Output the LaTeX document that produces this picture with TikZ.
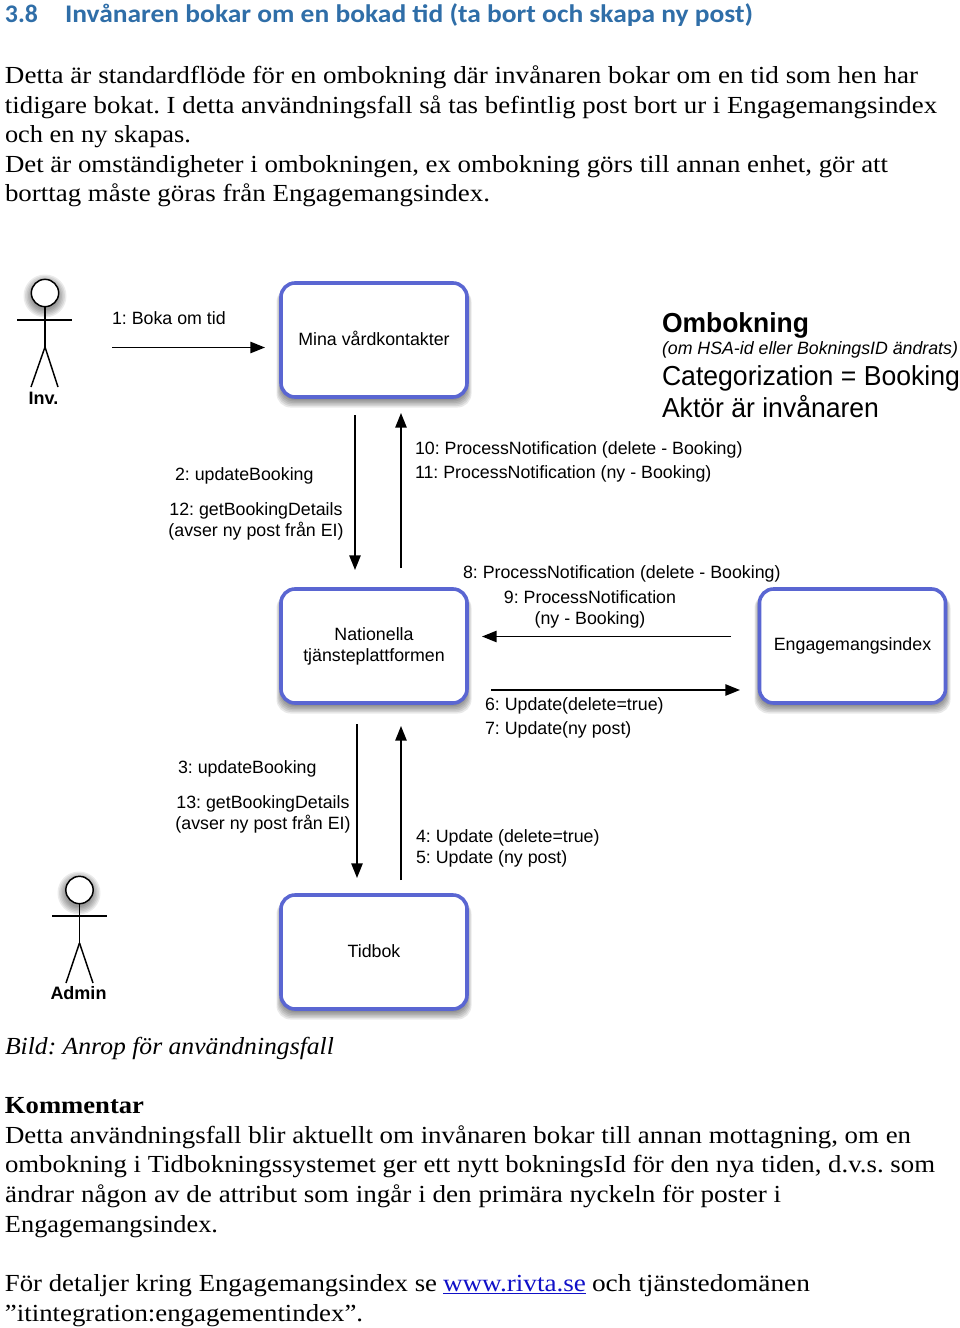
\documentclass[tikz,border=0pt]{standalone}
\usepackage{fontspec}
\usepackage{graphicx}
\usetikzlibrary{arrows.meta}
\setmainfont{Liberation Serif}
\newfontfamily\helv{Liberation Sans}
\newfontfamily\headf{Carlito}
\frenchspacing
\definecolor{boxblue}{HTML}{5A66D2}
\definecolor{headblue}{HTML}{2F6EA8}
\definecolor{linkblue}{HTML}{1010C8}
\newcommand{\fitw}[2]{\resizebox{#1\dimexpr 0.75pt\relax}{\height}{#2}}
\newcommand{\softsh}[4]{%
  \foreach \s in {0,1,...,5}{%
    \fill[black,opacity=.085,rounded corners=10.5pt]
      (#1-\s*0.9,#2+\s*0.4+3) rectangle (#3+\s*0.9,#4+\s*1.5+3);
  }}
\tikzset{
  x=0.75pt,y=-0.75pt,
  bodyline/.style={anchor=base west,inner sep=0pt,outer sep=0pt,font=\fontsize{18.4pt}{22pt}\selectfont},
  headline/.style={anchor=base west,inner sep=0pt,outer sep=0pt,text=headblue,font=\headf\bfseries\fontsize{19pt}{22pt}\selectfont},
  lbl/.style={anchor=base west,inner sep=0pt,outer sep=0pt,font=\helv\fontsize{13.35pt}{15.75pt}\selectfont},
  clbl/.style={anchor=center,align=center,inner sep=0pt,outer sep=0pt,font=\helv\fontsize{13.35pt}{15.75pt}\selectfont},
  biglbl/.style={anchor=base west,inner sep=0pt,outer sep=0pt,font=\helv\fontsize{20.6pt}{24pt}\selectfont},
  actorlbl/.style={anchor=center,inner sep=0pt,font=\helv\bfseries\fontsize{13.5pt}{15pt}\selectfont},
  sysbox/.style={draw=boxblue,fill=white,line width=2.7pt,rounded corners=10.5pt,
    minimum width=139.5pt,minimum height=85.5pt,align=center,inner sep=0pt,outer sep=0pt,
    font=\helv\fontsize{13.35pt}{15.75pt}\selectfont},
  msg/.style={line width=1.25pt,-{Triangle[length=11pt,width=8.5pt]}},
  stick/.style={line width=1.1pt,draw=black,line cap=butt},
}
\begin{document}
\begin{tikzpicture}
\useasboundingbox (0,0) rectangle (960,1328);
\fill[white] (0,0) rectangle (960,1328);

% heading and intro
\node[headline] (hnum) at (5,22) {\fitw{33}{3.8}};
\node[headline] (htitle) at (65,22) {\fitw{688}{Invånaren bokar om en bokad tid (ta bort och skapa ny post)}};
\node[bodyline] (p1) at (5,83) {\fitw{913}{Detta är standardflöde för en ombokning där invånaren bokar om en tid som hen har}};
\node[bodyline] (p2) at (5,113) {\fitw{932}{tidigare bokat. I detta användningsfall så tas befintlig post bort ur i Engagemangsindex}};
\node[bodyline] (p3) at (5,142) {\fitw{186}{och en ny skapas.}};
\node[bodyline] (p4) at (5,172) {\fitw{883}{Det är omständigheter i ombokningen, ex ombokning görs till annan enhet, gör att}};
\node[bodyline] (p5) at (5,201) {\fitw{485}{borttag måste göras från Engagemangsindex.}};

% shadows
\softsh{281}{283}{467}{397}
\softsh{281}{589}{467}{703}
\softsh{759}{589}{946}{703}
\softsh{281}{895}{467}{1009}
\foreach \cx/\cy in {45/293,79/890}{
  \foreach \s in {0,1,...,5}{
    \fill[black,opacity=.08] (\cx,\cy+3) circle[radius=(14+\s*1.5)*0.75pt];
  }
}

% boxes
\node[sysbox] (mina) at (374,340) {\raisebox{2.2pt}{Mina vårdkontakter}};
\node[sysbox] (ntp) at (374,646) {Nationella\\tjänsteplattformen};
\node[sysbox] (ei) at (852.5,646) {Engagemangsindex};
\node[sysbox] (tid) at (374,952) {\raisebox{1.5pt}{Tidbok}};

% actors
\node[circle,draw=black,fill=white,line width=1.1pt,minimum size=20.5pt,inner sep=0pt] (invhead) at (45,293) {};
\coordinate (invhip) at (45,347);
\draw[stick] (invhead.south) -- (invhip);
\draw[stick] (17,320) -- (72,320);
\draw[stick] (invhip) -- (31,387);
\draw[stick] (invhip) -- (58,387);
\node[actorlbl] (invl) at (43.5,398) {Inv.};

\node[circle,draw=black,fill=white,line width=1.1pt,minimum size=20.5pt,inner sep=0pt] (admhead) at (79.5,890) {};
\coordinate (admhip) at (79.5,943);
\draw[stick] (admhead.south) -- (admhip);
\draw[stick] (52,916) -- (107,916);
\draw[stick] (admhip) -- (66,983);
\draw[stick] (admhip) -- (93,983);
\node[actorlbl] (adml) at (78.5,993) {Admin};

% connector ends
\coordinate (a1s) at (112,347.5);   \coordinate (a1e) at (265,347.5);
\coordinate (a2s) at (355,415);     \coordinate (a2e) at (355,570);
\coordinate (a3s) at (401,568);     \coordinate (a3e) at (401,413);
\coordinate (a4s) at (731,636.5);   \coordinate (a4e) at (482,636.5);
\coordinate (a5s) at (491,690);     \coordinate (a5e) at (740,690);
\coordinate (a6s) at (357,724);     \coordinate (a6e) at (357,878);
\coordinate (a7s) at (401,880);     \coordinate (a7e) at (401,726);
\draw[msg] (a1s) -- (a1e);
\draw[msg] (a2s) -- (a2e);
\draw[msg] (a3s) -- (a3e);
\draw[msg] (a4s) -- (a4e);
\draw[msg] (a5s) -- (a5e);
\draw[msg] (a6s) -- (a6e);
\draw[msg] (a7s) -- (a7e);

% labels
\node[lbl] (l1) at (112,324) {1: Boka om tid};
\node[lbl] (l2) at (175,480) {2: updateBooking};
\node[clbl] (l12) at (256,521) {12: getBookingDetails\\(avser ny post från EI)};
\node[lbl] (l10) at (415,454) {10: ProcessNotification (delete - Booking)};
\node[lbl] (l11) at (415,478) {11: ProcessNotification (ny - Booking)};
\node[lbl] (l8) at (463,578) {8: ProcessNotification (delete - Booking)};
\node[clbl] (l9) at (590,609) {9: ProcessNotification\\(ny - Booking)};
\node[lbl] (l6) at (485,710) {6: Update(delete=true)};
\node[lbl] (l7) at (485,734) {7: Update(ny post)};
\node[lbl] (l3) at (178,773) {3: updateBooking};
\node[clbl] (l13) at (263,814) {13: getBookingDetails\\(avser ny post från EI)};
\node[lbl] (l4) at (416,842) {4: Update (delete=true)};
\node[lbl] (l5) at (416,863) {5: Update (ny post)};

\node[biglbl] (t1) at (662,332) {\fitw{147}{\bfseries Ombokning}};
\node[lbl,font=\helv\itshape\fontsize{13.4pt}{15pt}\selectfont] (t2) at (662,354) {\fitw{296}{(om HSA-id eller BokningsID ändrats)}};
\node[biglbl] (t3) at (662,385) {\fitw{298}{Categorization = Booking}};
\node[biglbl] (t4) at (662,417) {\fitw{217}{Aktör är invånaren}};

% closing text
\node[bodyline] (cap) at (5,1054) {\fitw{329}{\itshape Bild: Anrop för användningsfall}};
\node[bodyline] (kom) at (5,1113) {\fitw{139}{\bfseries Kommentar}};
\node[bodyline] (q1) at (5,1143) {\fitw{906}{Detta användningsfall blir aktuellt om invånaren bokar till annan mottagning, om en}};
\node[bodyline] (q2) at (5,1172) {\fitw{930}{ombokning i Tidbokningssystemet ger ett nytt bokningsId för den nya tiden, d.v.s. som}};
\node[bodyline] (q3) at (5,1202) {\fitw{776}{ändrar någon av de attribut som ingår i den primära nyckeln för poster i}};
\node[bodyline] (q4) at (5,1232) {\fitw{213}{Engagemangsindex.}};
\node[bodyline] (r1) at (5,1291) {\fitw{432}{För detaljer kring Engagemangsindex se}};
\node[bodyline,text=linkblue] (r2) at (443,1291) {\fitw{143}{\underline{www.rivta.se}}};
\node[bodyline] (r3) at (592,1291) {\fitw{218}{och tjänstedomänen}};
\node[bodyline] (r4) at (5,1321) {\fitw{358}{”itintegration:engagementindex”.}};
\end{tikzpicture}
\end{document}
